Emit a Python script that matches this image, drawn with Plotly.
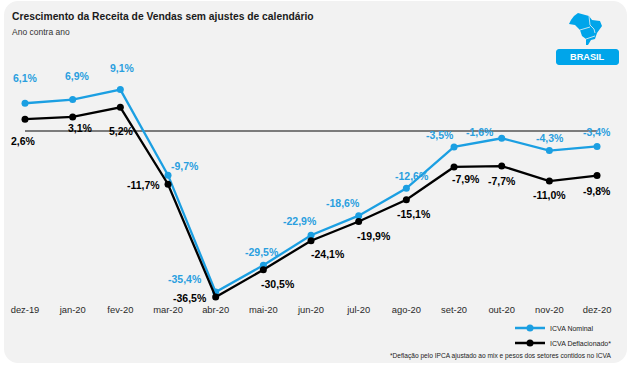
import plotly.graph_objects as go

W, H = 630, 367
months = ["dez-19","jan-20","fev-20","mar-20","abr-20","mai-20","jun-20","jul-20","ago-20","set-20","out-20","nov-20","dez-20"]
nominal = [6.1,6.9,9.1,-9.7,-35.4,-29.5,-22.9,-18.6,-12.6,-3.5,-1.6,-4.3,-3.4]
deflated = [2.6,3.1,5.2,-11.7,-36.5,-30.5,-24.1,-19.9,-15.1,-7.9,-7.7,-11.0,-9.8]
BLUE = "#1b9fe2"
LBL_BLUE = "#2a9fdf"
BLACK = "#000000"
FONT = "Liberation Sans"

# label offsets in pixels relative to points
nom_off = [(0,-25),(5,-24),(2,-22),(17,-9),(-31,-13),(-1,-13),(-11,-14),(-16,-13),(6,-12),(-14,-12),(-22,-6),(1,-13),(0,-14)]
def_off = [(-2,22),(8,11),(1,24),(-25,1),(-26,1),(15,14),(17,13),(15,14),(8,14),(12,12),(0,15),(0,14),(0,15)]

def P(x, y):
    return f"{x/W:.5f}", f"{1-y/H:.5f}"

def pstr(x, y):
    a, b = P(x, y)
    return f"{a},{b}"

def path(pts, close=True):
    return "M" + " L".join(pstr(*p) for p in pts) + (" Z" if close else "")

def rrect(x0, y0, x1, y1, r):
    k = r*0.45
    p = pstr
    return (f"M{p(x0+r,y0)} L{p(x1-r,y0)} C{p(x1-k,y0)} {p(x1,y0+k)} {p(x1,y0+r)} "
            f"L{p(x1,y1-r)} C{p(x1,y1-k)} {p(x1-k,y1)} {p(x1-r,y1)} "
            f"L{p(x0+r,y1)} C{p(x0+k,y1)} {p(x0,y1-k)} {p(x0,y1-r)} "
            f"L{p(x0,y0+r)} C{p(x0,y0+k)} {p(x0+k,y0)} {p(x0+r,y0)} Z")

fig = go.Figure()
for name, vals, col, lg in [("ICVA Nominal", nominal, BLUE, "legend"), ("ICVA Deflacionado*", deflated, BLACK, "legend2")]:
    fig.add_trace(go.Scatter(x=months, y=vals, name=name, mode="lines+markers", legend=lg,
                             line=dict(color=col, width=2.3), marker=dict(color=col, size=7)))

def lab(v):
    return f"{v:.1f}%".replace(".", ",")
ann = []
for vals, offs, col in [(nominal, nom_off, LBL_BLUE), (deflated, def_off, BLACK)]:
    for m, v, (dx, dy) in zip(months, vals, offs):
        ann.append(dict(x=m, y=v, text=f"<b>{lab(v)}</b>", showarrow=False, xshift=dx, yshift=-dy,
                        font=dict(family=FONT, size=10.5, color=col)))

def T(x, y, text, size, color="#1a1a1a", anchor="left"):
    a, b = P(x, y)
    ann.append(dict(xref="paper", yref="paper", x=float(a), y=float(b), text=text, showarrow=False,
                    xanchor=anchor, yanchor="middle", font=dict(family=FONT, size=size, color=color)))

T(10, 17, "<b>Crescimento da Receita de Vendas sem ajustes de calendário</b>", 10.3)
T(10, 32, "Ano contra ano", 8.5, "#333333")
T(587.5, 57, "<b>BRASIL</b>", 9.2, "#ffffff", "center")
T(613, 356, "*Deflação pelo IPCA ajustado ao mix e pesos dos setores contidos no ICVA", 6.6, "#222222", "right")

shapes = [
    dict(type="path", xref="paper", yref="paper", path=rrect(4, 1, 627, 363, 14), fillcolor="#f2f2f2", line_width=0, layer="below"),
    dict(type="line", xref="x", yref="y", x0=months[0], x1=months[-1], y0=0, y1=0, line=dict(color="#555555", width=1.5), layer="below"),
    dict(type="path", xref="paper", yref="paper", path=rrect(556, 49, 619, 65, 3), fillcolor="#00a5ea", line_width=0),
    dict(type="path", xref="paper", yref="paper", fillcolor="#00a5ea", line_width=0, path=path([
        (574,16),(578,13),(589,16),(592,20),(600,21),(602,26),(597,33),(595,39),(591,40),(588,45),
        (586,45),(586,39),(582,36),(580,30),(575,25),(569,24),(571,20)])),
    dict(type="path", xref="paper", yref="paper", line=dict(color="#f2f2f2", width=0.8), path=path([(589,16),(590,25),(594,29),(595,33)], False)),
    dict(type="path", xref="paper", yref="paper", line=dict(color="#f2f2f2", width=0.8), path=path([(580,30),(590,27)], False)),
    dict(type="path", xref="paper", yref="paper", line=dict(color="#f2f2f2", width=0.8), path=path([(586,39),(595,36)], False)),
]

leg_font = dict(family=FONT, size=7, color="#222222")
fig.update_layout(
    width=W, height=H, autosize=False, margin=dict(l=0, r=0, t=0, b=0),
    paper_bgcolor="white", plot_bgcolor="rgba(0,0,0,0)",
    showlegend=True,
    legend=dict(x=510/W, y=1-328/H, xanchor="left", yanchor="middle", bgcolor="rgba(0,0,0,0)", font=leg_font, itemwidth=30),
    legend2=dict(x=510/W, y=1-343/H, xanchor="left", yanchor="middle", bgcolor="rgba(0,0,0,0)", font=leg_font, itemwidth=30),
    xaxis=dict(type="category", categoryorder="array", categoryarray=months, tickmode="array", tickvals=months,
               range=[-25/47.67, (W-25)/47.67], anchor="free", position=(H-303)/H, showgrid=False, zeroline=False,
               showline=False, ticks="", tickfont=dict(family=FONT, size=9.4, color="#2a2a2a"), fixedrange=True),
    yaxis=dict(range=[(131-H)/4.55, 131/4.55], visible=False, showgrid=False, zeroline=False, fixedrange=True),
    shapes=shapes, annotations=ann,
)
fig.write_html("out.html", config=dict(displayModeBar=False),
               post_script="document.body.style.margin='0';document.documentElement.style.overflow='hidden';")
